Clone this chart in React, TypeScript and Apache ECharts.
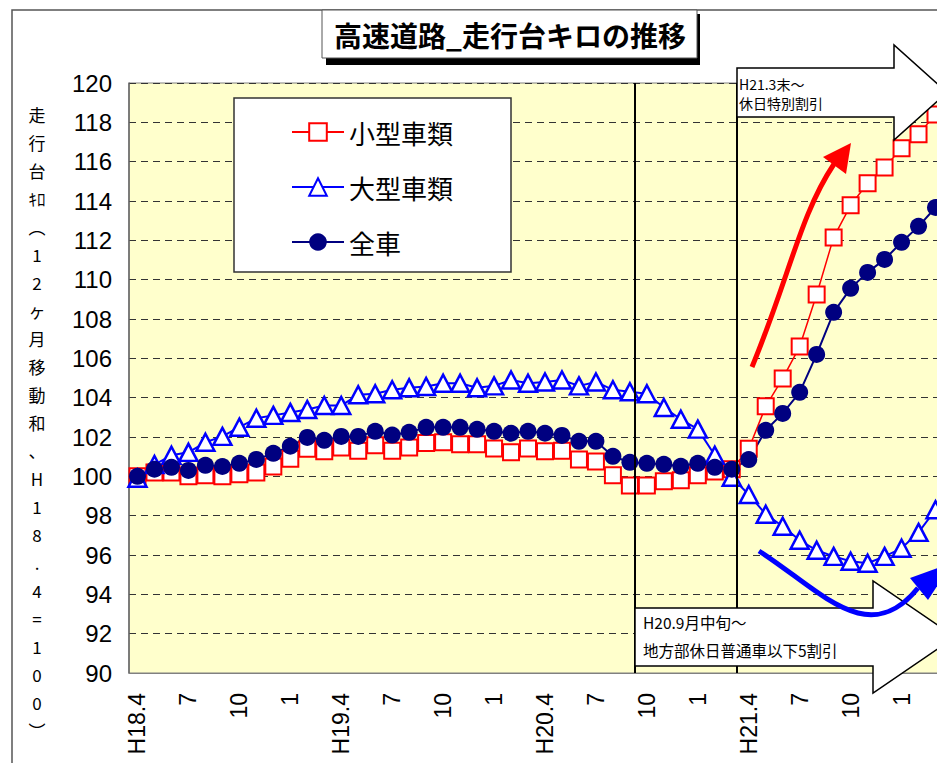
import React, { useEffect, useRef } from "react";
import * as echarts from "echarts";

// Month categories: H18.4 .. H22.3 (labels shown every 3 months)
const months: string[] = [
  "H18.4", "5", "6", "7", "8", "9", "10", "11", "12", "1", "2", "3",
  "H19.4", "5", "6", "7", "8", "9", "10", "11", "12", "1", "2", "3",
  "H20.4", "5", "6", "7", "8", "9", "10", "11", "12", "1", "2", "3",
  "H21.4", "5", "6", "7", "8", "9", "10", "11", "12", "1", "2", "3",
];

const seriesNames: string[] = ["小型車類", "大型車類", "全車"];

// 小型車類
const smallCars: number[] = [
  100.0, 100.2, 100.2, 100.0, 100.05, 100.0, 100.1, 100.2, 100.5, 100.9, 101.4, 101.27,
  101.47, 101.3, 101.58, 101.3, 101.47, 101.7, 101.73, 101.63, 101.63, 101.42, 101.22, 101.42,
  101.27, 101.3, 100.86, 100.76, 100.05, 99.54, 99.54, 99.75, 99.8, 100.05, 100.25, 100.36,
  101.4, 103.56, 104.98, 106.6, 109.25, 112.15, 113.78, 114.9, 115.7, 116.68, 117.4, 118.4,
];

// 大型車類
const largeCars: number[] = [
  99.9, 100.6, 101.07, 101.22, 101.73, 102.03, 102.5, 102.95, 103.1, 103.25, 103.4, 103.6,
  103.6, 104.15, 104.2, 104.4, 104.5, 104.57, 104.73, 104.73, 104.5, 104.6, 104.9, 104.73,
  104.8, 104.9, 104.6, 104.8, 104.4, 104.3, 104.2, 103.5, 102.9, 102.4, 101.07, 99.95,
  99.08, 98.07, 97.46, 96.75, 96.24, 95.93, 95.68, 95.58, 95.93, 96.34, 97.15, 98.3,
];

// 全車
const allCars: number[] = [
  100.0, 100.36, 100.46, 100.3, 100.56, 100.5, 100.66, 100.86, 101.17, 101.53, 101.98, 101.83,
  102.03, 102.03, 102.29, 102.1, 102.24, 102.49, 102.49, 102.49, 102.39, 102.29, 102.19, 102.29,
  102.19, 102.08, 101.78, 101.78, 101.02, 100.71, 100.66, 100.61, 100.51, 100.66, 100.46, 100.36,
  100.85, 102.34, 103.2, 104.27, 106.2, 108.34, 109.56, 110.37, 111.03, 111.9, 112.71, 113.67,
];

const titleText = "高速道路_走行台キロの推移";
const yNameChars: string[] = [
  "走", "行", "台", "ｷﾛ", "︵", "1", "2", "ヶ", "月", "移", "動", "和", "、",
  "H", "1", "8", ".", "4", "=", "1", "0", "0", "︶",
];
const note1: string[] = ["H21.3末～", "休日特別割引"];
const note2: string[] = ["H20.9月中旬～", "地方部休日普通車以下5割引"];

const JP = "'Noto Sans CJK JP', 'Noto Sans', sans-serif";
const NUM = "'Liberation Sans', Arial, sans-serif";

export default function App() {
  const ref = useRef<HTMLDivElement>(null);

  useEffect(() => {
    if (!ref.current) return;
    const chart = echarts.init(ref.current, undefined, { renderer: "svg" });

    const txt = (text: string, x: number, y: number, size: number, extra: any = {}) => ({
      type: "text",
      x,
      y,
      z: 20,
      silent: true,
      style: {
        text,
        fontSize: size,
        fontFamily: JP,
        fill: "#000",
        align: "left",
        verticalAlign: "middle",
        ...extra,
      },
    });

    const graphic: any[] = [
      // chart area border
      {
        type: "rect",
        z: 1,
        silent: true,
        shape: { x: 12, y: 10, width: 1200, height: 900 },
        style: { fill: "none", stroke: "#555", lineWidth: 1.5 },
      },
      // title shadow + box
      {
        type: "rect",
        z: 20,
        silent: true,
        shape: { x: 326, y: 14, width: 374, height: 51 },
        style: { fill: "#000" },
      },
      {
        type: "rect",
        z: 21,
        silent: true,
        shape: { x: 322, y: 10, width: 375, height: 48 },
        style: { fill: "#fff", stroke: "#555", lineWidth: 1 },
      },
      { ...txt(titleText, 510, 35, 28, { align: "center", fontWeight: "bold" }), z: 22 },
      // y axis name (vertical)
      txt(yNameChars.join("\n"), 37, 100, 17, { align: "center", verticalAlign: "top", lineHeight: 28 }),
      // vertical event lines
      {
        type: "line",
        z: 15,
        silent: true,
        shape: { x1: 635, y1: 83, x2: 635, y2: 673 },
        style: { stroke: "#000", lineWidth: 2 },
      },
      {
        type: "line",
        z: 15,
        silent: true,
        shape: { x1: 737, y1: 83, x2: 737, y2: 673 },
        style: { stroke: "#000", lineWidth: 2 },
      },
      // top arrow
      {
        type: "polygon",
        z: 16,
        silent: true,
        shape: {
          points: [[737, 68], [894, 68], [894, 45], [947, 92.5], [894, 140], [894, 117], [737, 117]],
        },
        style: { fill: "#fff", stroke: "#000", lineWidth: 1.5 },
      },
      txt(note1.join("\n"), 739, 93.5, 14, { lineHeight: 18.5 }),
      // bottom arrow
      {
        type: "polygon",
        z: 16,
        silent: true,
        shape: {
          points: [[635, 608], [873, 608], [873, 581], [955, 637], [873, 693], [873, 666], [635, 666]],
        },
        style: { fill: "#fff", stroke: "#000", lineWidth: 1.5 },
      },
      txt(note2.join("\n"), 643, 636, 15.5, { lineHeight: 28 }),
      // red rising arrow
      {
        type: "bezierCurve",
        z: 18,
        silent: true,
        shape: { x1: 752, y1: 367, cpx1: 790, cpy1: 275, cpx2: 800, cpy2: 215, x2: 834, y2: 164 },
        style: { stroke: "#FF0000", lineWidth: 5, fill: "none" },
      },
      {
        type: "polygon",
        z: 18,
        silent: true,
        shape: { points: [[851, 143], [823, 157], [846, 174]] },
        style: { fill: "#FF0000" },
      },
      // blue falling arrow
      {
        type: "bezierCurve",
        z: 18,
        silent: true,
        shape: { x1: 759, y1: 551, cpx1: 820, cpy1: 590, cpx2: 868, cpy2: 650, x2: 918, y2: 588 },
        style: { stroke: "#0000FF", lineWidth: 5, fill: "none" },
      },
      {
        type: "polygon",
        z: 18,
        silent: true,
        shape: { points: [[952, 563], [910, 578], [928, 600]] },
        style: { fill: "#0000FF" },
      },
    ];

    chart.setOption({
      animation: false,
      backgroundColor: "#fff",
      grid: {
        left: 129,
        right: 56,
        top: 83,
        bottom: 90,
        show: true,
        backgroundColor: "#FFFFCC",
        borderColor: "#808080",
        borderWidth: 1,
      },
      legend: {
        data: seriesNames,
        orient: "vertical",
        left: 234,
        top: 98,
        itemWidth: 52,
        itemHeight: 22,
        itemGap: 29,
        padding: [21, 58, 17, 57],
        backgroundColor: "#fff",
        borderColor: "#333",
        borderWidth: 1.5,
        textStyle: { fontSize: 26, fontFamily: JP, color: "#000" },
      },
      xAxis: {
        type: "category",
        data: months,
        boundaryGap: true,
        axisLine: { show: true, lineStyle: { color: "#808080", width: 1 } },
        axisTick: { show: false },
        axisLabel: {
          interval: 2,
          rotate: 90,
          fontSize: 23,
          fontFamily: NUM,
          color: "#000",
          margin: 20,
        },
        splitLine: { show: false },
      },
      yAxis: {
        type: "value",
        min: 90,
        max: 120,
        interval: 2,
        axisLine: { show: true, lineStyle: { color: "#666", width: 1.5 } },
        axisTick: { show: false },
        axisLabel: { fontSize: 24, fontFamily: NUM, color: "#000", margin: 17 },
        splitLine: { show: true, lineStyle: { color: "#333", type: [7, 5], width: 1 } },
      },
      series: [
        {
          name: seriesNames[0],
          type: "line",
          data: smallCars,
          symbol: "rect",
          symbolSize: 16,
          showAllSymbol: true,
          itemStyle: { color: "#fff", borderColor: "#FF0000", borderWidth: 2 },
          lineStyle: { color: "#FF0000", width: 1.5 },
        },
        {
          name: seriesNames[1],
          type: "line",
          data: largeCars,
          symbol: "triangle",
          symbolSize: [18, 17],
          showAllSymbol: true,
          itemStyle: { color: "#fff", borderColor: "#0000FF", borderWidth: 2.5 },
          lineStyle: { color: "#0000FF", width: 2 },
        },
        {
          name: seriesNames[2],
          type: "line",
          data: allCars,
          symbol: "circle",
          symbolSize: 17,
          showAllSymbol: true,
          itemStyle: { color: "#000080" },
          lineStyle: { color: "#000080", width: 2 },
        },
      ],
      graphic,
    });

    return () => chart.dispose();
  }, []);

  return (
    <div
      style={{
        position: "fixed",
        left: 0,
        top: 0,
        width: 937,
        height: 763,
        overflow: "hidden",
        background: "#fff",
      }}
    >
      <div ref={ref} style={{ width: 1000, height: 763 }} />
    </div>
  );
}
